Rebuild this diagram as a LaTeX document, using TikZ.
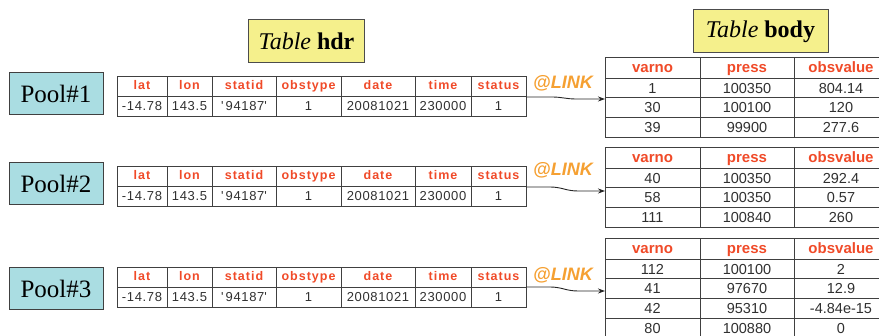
\documentclass[tikz,border=0pt]{standalone}
\usepackage{fontspec}
\setmainfont{Liberation Serif}
\newfontfamily\hdfont[LetterSpace=8]{Liberation Sans}
\newfontfamily\valfont[LetterSpace=5]{Liberation Sans}
\newfontfamily\sansf{Liberation Sans}
\usetikzlibrary{arrows.meta}
\definecolor{poolfill}{HTML}{AADDE2}
\definecolor{labfill}{HTML}{F5F08C}
\definecolor{hdred}{HTML}{F04A28}
\definecolor{linkor}{HTML}{F5A032}
\definecolor{tabline}{HTML}{404040}
\definecolor{valtxt}{HTML}{303030}
\tikzset{
  pool/.style={draw=black!75, line width=1pt, fill=poolfill, minimum width=94pt, minimum height=42pt, inner sep=0pt, font=\fontsize{25}{25}\selectfont},
  labbox/.style={draw=black!70, line width=1pt, fill=labfill, inner sep=0pt, font=\fontsize{24}{24}\selectfont},
  cell/.style={draw=tabline, line width=0.9pt, inner sep=0pt},
  hcell/.style={cell, text=hdred, text height=9.5pt, text depth=1.5pt, font=\hdfont\bfseries\fontsize{12.5}{12.5}\selectfont},
  vcell/.style={cell, text=valtxt, text height=9.4pt, text depth=0pt, font=\valfont\fontsize{13}{13}\selectfont},
  bhcell/.style={cell, text=hdred, text height=10.8pt, text depth=0pt, font=\sansf\bfseries\fontsize{15}{15}\selectfont},
  bvcell/.style={cell, text=valtxt, text height=10.4pt, text depth=0pt, font=\sansf\fontsize{14.5}{14.5}\selectfont},
  linklab/.style={text=linkor, font=\sansf\bfseries\itshape\fontsize{18}{18}\selectfont, inner sep=0pt},
  linkarrow/.style={draw=black!85, line width=0.9pt, -{Stealth[length=7pt,width=5pt]}}
}
\newcommand\hdrtable[2]{%
  \foreach \a/\b/\h/\v [count=\i] in {117/167/lat/-14.78, 167/212/lon/143.5, 212/276/statid/{\textquotesingle\,94187\textquotesingle}, 276/341/obstype/1, 341/415/date/20081021, 415/471/time/230000, 471/526/status/1}{%
    \pgfmathsetmacro\cx{(\a+\b)/2}
    \pgfmathsetmacro\cw{\b-\a}
    \node[hcell, minimum width=\cw pt, minimum height=20pt] (h#1h\i) at (\cx,#2+10) {\h};
    \node[vcell, minimum width=\cw pt, minimum height=20pt] (h#1v\i) at (\cx,#2+30) {\v};
  }%
}
\newcommand\bodytable[3]{%
  \foreach \a/\b/\h [count=\i] in {605/700/varno, 700/794/press, 794/888/obsvalue}{%
    \pgfmathsetmacro\cx{(\a+\b)/2}
    \pgfmathsetmacro\cw{\b-\a}
    \node[bhcell, minimum width=\cw pt, minimum height=21pt] (b#1h\i) at (\cx,#2+10.5) {\h};
  }%
  \foreach \p/\q/\r [count=\j] in {#3}{%
    \pgfmathsetmacro\cy{#2+21+(\j-0.5)*19.7}
    \node[bvcell, minimum width=95pt, minimum height=19.7pt] (b#1r\j a) at (652.5,\cy) {\p};
    \node[bvcell, minimum width=94pt, minimum height=19.7pt] (b#1r\j b) at (747,\cy) {\q};
    \node[bvcell, minimum width=94pt, minimum height=19.7pt] (b#1r\j c) at (841,\cy) {\r};
  }%
}
\begin{document}
\begin{tikzpicture}[x=1pt,y=-1pt]
\useasboundingbox (0,0) rectangle (879,336);
\clip (0,0) rectangle (879,336);
% title labels
\node[labbox, minimum width=116pt, minimum height=43pt] (thdr) at (306.5,41.5) {\textit{Table} \textbf{hdr}};
\node[labbox, minimum width=135pt, minimum height=43pt] (tbody) at (760.5,31.5) {\textit{Table} \textbf{body}};
% pools
\node[pool] (p1) at (56,94) {Pool\#1};
\node[pool] (p2) at (56,184) {Pool\#2};
\node[pool] (p3) at (56,289) {Pool\#3};
% hdr tables
\hdrtable{1}{76}
\hdrtable{2}{166}
\hdrtable{3}{267}
% body tables
\bodytable{1}{57}{1/100350/804.14, 30/100100/120, 39/99900/277.6}
\bodytable{2}{147}{40/100350/292.4, 58/100350/0.57, 111/100840/260}
\bodytable{3}{238}{112/100100/2, 41/97670/12.9, 42/95310/-4.84e-15, 80/100880/0}
% links
\coordinate (a1s) at ([yshift=9pt]h1v7.east);
\coordinate (a1e) at (605,99);
\coordinate (a2s) at ([yshift=9pt]h2v7.east);
\coordinate (a2e) at (605,191);
\coordinate (a3s) at ([yshift=10pt]h3v7.east);
\coordinate (a3e) at (605,291);
\node[linklab] (l1) at (563,83) {@LINK};
\node[linklab] (l2) at (563,170) {@LINK};
\node[linklab] (l3) at (563,275) {@LINK};
\draw[linkarrow] (a1s) -- (552,97) .. controls (562,97) and (566,99) .. (576,99) -- (a1e);
\draw[linkarrow] (a2s) -- (550,187) .. controls (562,187) and (566,191) .. (578,191) -- (a2e);
\draw[linkarrow] (a3s) -- (550,287) .. controls (562,287) and (566,291) .. (578,291) -- (a3e);
\end{tikzpicture}
\end{document}
